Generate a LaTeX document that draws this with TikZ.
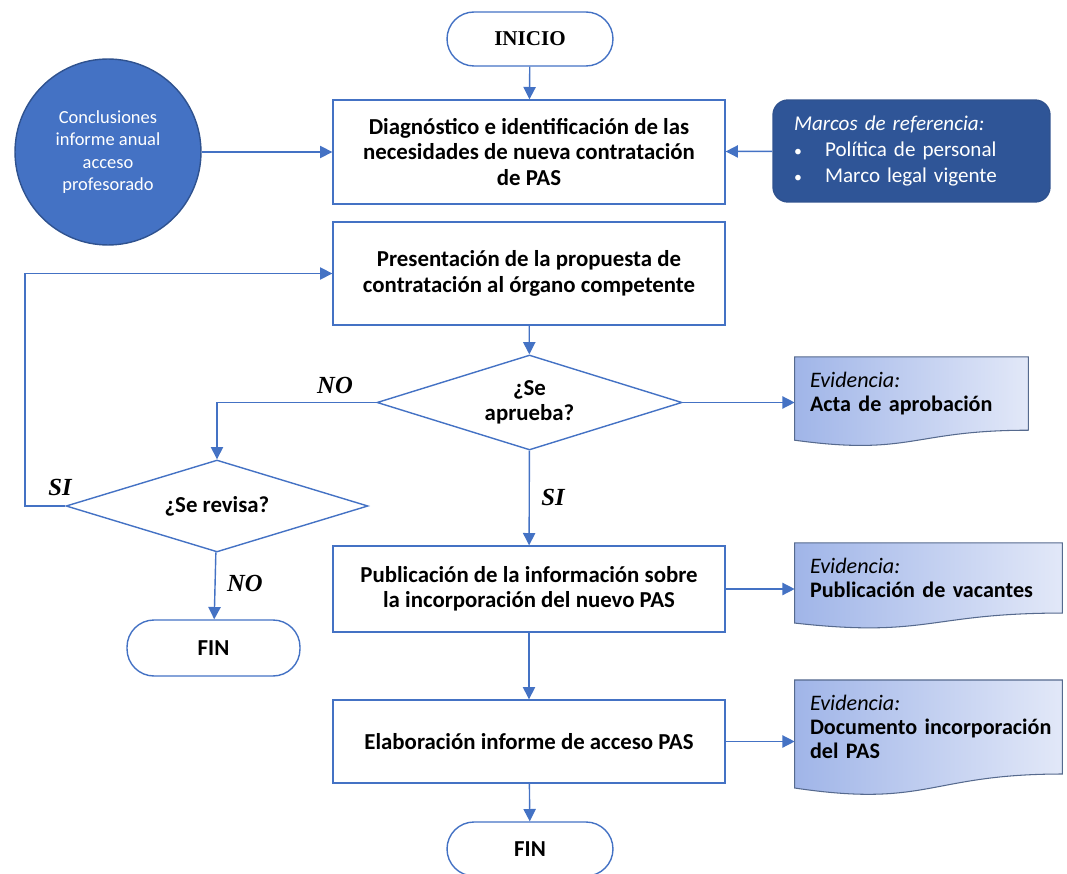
\documentclass[tikz,border=0pt]{standalone}
\usepackage{fontspec}
\setmainfont{Carlito}
\newfontfamily\serifbf{Liberation Serif}
\usepackage{tikz}
\usetikzlibrary{shapes, arrows.meta, positioning, calc, backgrounds}
\definecolor{azul}{HTML}{4472C4}
\definecolor{azulosc}{HTML}{2F5597}
\definecolor{borde}{HTML}{2F528F}
\definecolor{evizq}{HTML}{A0B5E8}
\definecolor{evder}{HTML}{E2E8F8}
\definecolor{evlinea}{HTML}{566A8E}
\tikzstyle{proc} = [rectangle, draw=azul, line width=0.8pt, minimum width=7.84cm, align=center, font=\bfseries\fontsize{13}{14.4}\selectfont]
\tikzstyle{term} = [rectangle, rounded corners=0.54cm, draw=azul, line width=0.8pt, minimum width=3.32cm, minimum height=1.08cm, font=\bfseries\fontsize{13}{14}\selectfont]
\tikzstyle{decision} = [diamond, shape aspect=3.2, draw=azul, line width=0.8pt, inner sep=0pt, align=center, font=\bfseries\fontsize{13}{14.4}\selectfont]
\tikzstyle{evid} = [rectangle, inner sep=0.3cm, align=left, font=\fontsize{12.6}{13.6}\selectfont]
\tikzstyle{circulo} = [circle, fill=azul, draw=borde, line width=0.8pt, minimum size=3.72cm, align=center, text=white, font=\fontsize{10.5}{12.8}\selectfont]
\tikzstyle{marcos} = [rectangle, rounded corners=0.3cm, fill=azulosc, draw=borde, line width=0.8pt, minimum width=5.54cm, minimum height=2.04cm, text width=4.7cm, align=left, text=white, font=\fontsize{12}{13.9}\selectfont]
\tikzstyle{etiq} = [font=\serifbf\bfseries\itshape\fontsize{14}{16}\selectfont]
\tikzstyle{arrow} = [draw=azul, line width=0.8pt, -{Triangle[width=7pt,length=7pt]}]
\tikzstyle{line} = [draw=azul, line width=0.8pt]

% hoja de evidencia con borde ondulado
\newcommand{\evidoc}[3]{%
  \shadedraw[left color=evizq, right color=evder, draw=evlinea, line width=0.6pt]
    (#1.north west) -- (#1.north east) -- (#1.south east)
    .. controls ($(#1.south east)!0.5!(#1.south west)$) and ($(#1.south east)!0.5!(#1.south west)+(0,#3)$) .. ($(#1.south west)+(0,#2)$) -- cycle;}

\begin{document}
\begin{tikzpicture}[x=0.02cm, y=-0.02cm]
	\useasboundingbox (0,0) rectangle (1067,874);

	\node [term, font=\serifbf\bfseries\fontsize{12}{14}\selectfont] (inicio) at (530,39) {INICIO};
	\node [proc, minimum height=2.08cm] (diag) at (529,152) {Diagnóstico e identificación de las\\necesidades de nueva contratación\\de PAS};
	\node [circulo] (concl) at (108,152) {Conclusiones\\informe anual\\acceso\\profesorado};
	\node [marcos] (marc) at (911.5,151) {\textit{Marcos de referencia:}\\[1pt]
		{\small\textbullet}\hspace{1.1em}Política de personal\\[1pt]
		{\small\textbullet}\hspace{1.1em}Marco legal vigente};
	\node [proc, minimum height=2.06cm] (prop) at (529,273.5) {Presentación de la propuesta de\\contratación al órgano competente};
	\node [decision, minimum width=6.1cm, minimum height=1.9cm] (aprueba) at (529.5,402.5) {¿Se\\aprueba?};
	\node [decision, minimum width=6.04cm, minimum height=1.84cm] (revisa) at (217,506) {¿Se revisa?};
	\node [term, minimum width=3.46cm, minimum height=1.12cm] (fin1) at (213.5,648) {FIN};
	\node [proc, minimum height=1.72cm] (publica) at (529,589) {Publicación de la información sobre\\la incorporación del nuevo PAS};
	\node [proc, minimum height=1.66cm] (elabora) at (529,741.5) {Elaboración informe de acceso PAS};
	\node [term] (fin2) at (530,849) {FIN};

	\node [evid, minimum width=4.66cm, minimum height=1.34cm, text width=4.06cm] (ev1) at (911.5,393.5) {\textit{Evidencia:}\\\textbf{Acta de aprobación}};
	\node [evid, minimum width=5.34cm, minimum height=1.28cm, text width=4.74cm] (ev2) at (928.5,578) {\textit{Evidencia:}\\\textbf{Publicación de vacantes}};
	\node [evid, minimum width=5.34cm, minimum height=1.76cm, text width=4.74cm] (ev3) at (928.5,727) {\textit{Evidencia:}\\\mbox{\textbf{Documento incorporación}}\\\textbf{del PAS}};
	\begin{scope}[on background layer]
		\evidoc{ev1}{10}{26}
		\evidoc{ev2}{10}{25}
		\evidoc{ev3}{14}{34}
	\end{scope}

	\node [etiq] (no1) at (335,385) {NO};
	\node [etiq] (si1) at (60,487) {SI};
	\node [etiq] (no2) at (245,583) {NO};
	\node [etiq] (si2) at (553,497) {SI};
	\coordinate (vuelta) at (25,0);

	\path [arrow] (inicio) -- (diag);
	\path [arrow] (concl) -- (diag);
	\path [arrow] (marc) -- (diag);
	\path [arrow] (prop) -- (aprueba);
	\path [arrow] (aprueba.west) -| (revisa.north);
	\path [arrow] (revisa.west) -- (revisa.west -| vuelta) |- (prop.west);
	\path [arrow] (revisa) -- (fin1);
	\path [arrow] (aprueba) -- (publica);
	\path [arrow] (publica) -- (elabora);
	\path [arrow] (elabora) -- (fin2);
	\path [arrow] (aprueba.east) -- (aprueba.east -| ev1.west);
	\path [arrow] (publica.east) -- (publica.east -| ev2.west);
	\path [arrow] (elabora.east) -- (elabora.east -| ev3.west);
\end{tikzpicture}
\end{document}
